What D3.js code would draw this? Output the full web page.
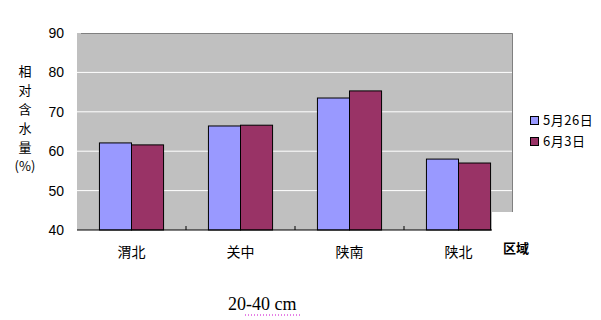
<!DOCTYPE html>
<html>
<head>
<meta charset="utf-8">
<script src="https://cdn.jsdelivr.net/npm/d3@7"></script>
<style>
  body { margin: 0; background: #fff; }
  svg { display: block; }
</style>
</head>
<body>
<svg id="chart"></svg>
<script>
const regions = ["渭北", "关中", "陕南", "陕北"];
const seriesNames = ["5月26日", "6月3日"];
const may26 = [62.1, 66.4, 73.5, 58.0];
const jun3 = [61.6, 66.6, 75.3, 57.0];
const yTicks = [40, 50, 60, 70, 80, 90];
const colors = ["#9999FF", "#993366"];

const margin = { top: 33, right: 88, bottom: 90, left: 77 };
const width = 601 - margin.left - margin.right;
const height = 320 - margin.top - margin.bottom;

const svg = d3.select("#chart")
  .attr("width", 601)
  .attr("height", 320);

const g = svg.append("g")
  .attr("transform", `translate(${margin.left},${margin.top})`);

const x = d3.scaleBand().domain(regions).range([0, width]);
const xs = d3.scaleBand().domain(seriesNames).range([0, x.bandwidth()]).paddingOuter(0.7);
const y = d3.scaleLinear().domain([40, 90]).range([height, 0]);

// plot background
g.append("rect")
  .attr("width", width).attr("height", height)
  .attr("fill", "#C0C0C0");

// grid lines
g.selectAll("line.grid")
  .data(yTicks.slice(1, -1))
  .join("line")
  .attr("class", "grid")
  .attr("x1", 0).attr("x2", width)
  .attr("y1", d => y(d)).attr("y2", d => y(d))
  .attr("stroke", "#fff").attr("stroke-width", 1);

// top / right border
g.append("path")
  .attr("d", `M4,0.5H${width - 0.5}V${height}`)
  .attr("fill", "none").attr("stroke", "#808080").attr("stroke-width", 1);

// bars
const rows = regions.map((r, i) => ({ region: r, vals: [may26[i], jun3[i]] }));
const grp = g.selectAll("g.cat")
  .data(rows)
  .join("g")
  .attr("transform", d => `translate(${x(d.region)},0)`);

grp.selectAll("rect")
  .data(d => d.vals.map((v, i) => ({ name: seriesNames[i], v, i })))
  .join("rect")
  .attr("x", d => xs(d.name))
  .attr("y", d => y(d.v))
  .attr("width", xs.bandwidth())
  .attr("height", d => y(40) - y(d.v))
  .attr("fill", d => colors[d.i])
  .attr("stroke", "#000").attr("stroke-width", 1);

// white patch at bottom right (as in the reference)
g.append("rect")
  .attr("x", width - 21).attr("y", height - 18)
  .attr("width", 30).attr("height", 19)
  .attr("fill", "#fff");

// x axis
const xAxis = g.append("g")
  .attr("transform", `translate(0,${height})`)
  .call(d3.axisBottom(x).tickSize(0).tickPadding(17));
xAxis.select(".domain").remove();
xAxis.append("line")
  .attr("x1", 0).attr("x2", width - 21)
  .attr("stroke", "#000");
xAxis.selectAll("line.tk")
  .data(regions.slice(1))
  .join("line")
  .attr("class", "tk")
  .attr("x1", d => x(d)).attr("x2", d => x(d))
  .attr("y1", 0).attr("y2", -4)
  .attr("stroke", "#000");
xAxis.selectAll("text")
  .attr("font-family", "'Noto Sans CJK SC', sans-serif")
  .attr("font-size", 14)
  .attr("fill", "#000");

// y axis
const yAxis = g.append("g")
  .call(d3.axisLeft(y).tickValues(yTicks).tickSize(0).tickPadding(13));
yAxis.select(".domain").remove();
yAxis.selectAll("text")
  .attr("font-family", "Arial, 'Liberation Sans', sans-serif")
  .attr("font-size", 14)
  .attr("fill", "#000");

// y axis title, stacked characters
const yTitle = ["相", "对", "含", "水", "量", "(%)"];
svg.append("g")
  .selectAll("text")
  .data(yTitle)
  .join("text")
  .attr("x", 25)
  .attr("y", (d, i) => 76 + i * 19)
  .attr("text-anchor", "middle")
  .attr("font-family", "'Noto Sans CJK SC', sans-serif")
  .attr("font-size", 13)
  .text(d => d);

// x axis title
svg.append("text")
  .attr("x", 503).attr("y", 253)
  .attr("font-family", "'Noto Sans CJK SC', sans-serif")
  .attr("font-size", 13)
  .attr("font-weight", "bold")
  .text("区域");

// legend
const legend = svg.append("g")
  .attr("transform", "translate(530,116)");
seriesNames.forEach((name, i) => {
  const row = legend.append("g").attr("transform", `translate(0,${i * 21})`);
  row.append("rect")
    .attr("x", 0.5).attr("y", 0.5)
    .attr("width", 8).attr("height", 8)
    .attr("fill", colors[i]).attr("stroke", "#000");
  row.append("text")
    .attr("x", 13).attr("y", 9)
    .attr("font-family", "'Noto Sans CJK SC', sans-serif")
    .attr("font-size", 13)
    .attr("letter-spacing", 0.5)
    .text(name);
});

// depth caption
svg.append("text")
  .attr("x", 228).attr("y", 310)
  .attr("font-family", "'Liberation Serif', 'Times New Roman', serif")
  .attr("font-size", 18)
  .text("20-40 cm");
svg.append("line")
  .attr("x1", 245).attr("x2", 300)
  .attr("y1", 315).attr("y2", 315)
  .attr("stroke", "#CC00CC").attr("stroke-dasharray", "1,2");
</script>
</body>
</html>
